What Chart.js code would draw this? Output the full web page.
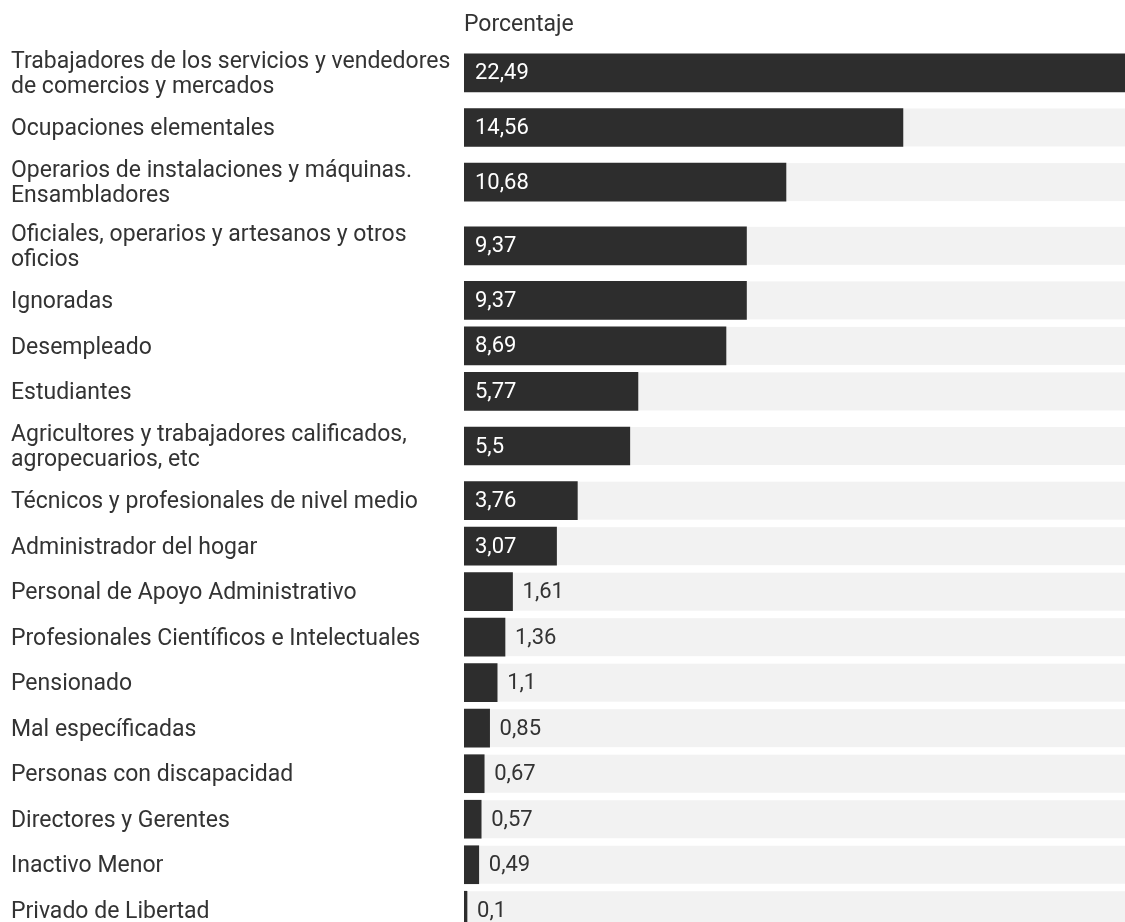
<!DOCTYPE html>
<html>
<head>
<meta charset="utf-8">
<script src="https://cdn.jsdelivr.net/npm/chart.js@4.4.0/dist/chart.umd.min.js"></script>
<style>
  html, body { margin: 0; padding: 0; background: #ffffff; overflow: hidden; }
  #wrap { position: relative; width: 1142px; height: 933px; }
</style>
</head>
<body>
<div id="wrap"><canvas id="c"></canvas></div>
<script>
// ---- data ----
const categories = [
  ['Trabajadores de los servicios y vendedores', 'de comercios y mercados'],
  ['Ocupaciones elementales'],
  ['Operarios de instalaciones y máquinas.', 'Ensambladores'],
  ['Oficiales, operarios y artesanos y otros', 'oficios'],
  ['Ignoradas'],
  ['Desempleado'],
  ['Estudiantes'],
  ['Agricultores y trabajadores calificados,', 'agropecuarios, etc'],
  ['Técnicos y profesionales de nivel medio'],
  ['Administrador del hogar'],
  ['Personal de Apoyo Administrativo'],
  ['Profesionales Científicos e Intelectuales'],
  ['Pensionado'],
  ['Mal específicadas'],
  ['Personas con discapacidad'],
  ['Directores y Gerentes'],
  ['Inactivo Menor'],
  ['Privado de Libertad']
];
const values = [22.49, 14.56, 10.68, 9.37, 9.37, 8.69, 5.77, 5.5, 3.76, 3.07, 1.61, 1.36, 1.1, 0.85, 0.67, 0.57, 0.49, 0.1];
const axisTitle = 'Porcentaje';

// ---- row layout derived from the number of label lines ----
const EXTRA_LINE = 0.4;
const rowSizes = categories.map(l => 1 + EXTRA_LINE * (l.length - 1));
const rowCenters = [];
let acc = 0;
rowSizes.forEach(s => { rowCenters.push(acc + s / 2); acc += s; });
const totalRows = acc;

const fmt = v => String(v).replace('.', ',');
const FONT = 'Roboto';
const TEXT = '#333333';
const BAR = '#2d2d2d';
const TRACK = '#f2f2f2';

const trackPlugin = {
  id: 'track',
  beforeDatasetsDraw(chart) {
    const { ctx, chartArea } = chart;
    const meta = chart.getDatasetMeta(0);
    ctx.save();
    ctx.fillStyle = TRACK;
    meta.data.forEach(el => {
      ctx.fillRect(chartArea.left, el.y - el.height / 2, chartArea.right - chartArea.left, el.height);
    });
    ctx.restore();
  }
};

const labelPlugin = {
  id: 'valueLabels',
  afterDatasetsDraw(chart) {
    const { ctx } = chart;
    const meta = chart.getDatasetMeta(0);
    ctx.save();
    ctx.font = '22px ' + FONT;
    ctx.textBaseline = 'middle';
    ctx.textAlign = 'left';
    meta.data.forEach((el, i) => {
      const txt = fmt(values[i]);
      const w = ctx.measureText(txt).width;
      const barW = el.x - el.base;
      if (w + 22 <= barW) {
        ctx.fillStyle = '#ffffff';
        ctx.fillText(txt, el.base + 11, el.y + 1);
      } else {
        ctx.fillStyle = TEXT;
        ctx.fillText(txt, el.x + 10, el.y + 1);
      }
    });
    ctx.restore();
  }
};

new Chart(document.getElementById('c'), {
  type: 'bar',
  data: {
    datasets: [{
      data: values.map((v, i) => ({ x: v, y: rowCenters[i] })),
      backgroundColor: BAR,
      borderWidth: 0,
      barThickness: 38
    }]
  },
  options: {
    indexAxis: 'y',
    responsive: true,
    maintainAspectRatio: false,
    animation: false,
    events: [],
    layout: { padding: { left: 11, right: 0, top: 0, bottom: 0 } },
    plugins: { legend: { display: false }, tooltip: { enabled: false } },
    scales: {
      x: {
        type: 'linear',
        position: 'top',
        min: 0,
        max: Math.max(...values),
        grid: { display: false },
        border: { display: false },
        ticks: { display: false },
        title: {
          display: true,
          text: axisTitle,
          align: 'start',
          color: TEXT,
          font: { family: FONT, size: 23, lineHeight: 1.2 },
          padding: { top: 11, bottom: 0 }
        },
        afterFit(scale) {
          scale.height = 41;
          scale.paddingLeft = 0; scale.paddingRight = 0;
        }
      },
      y: {
        type: 'linear',
        reverse: true,
        offset: false,
        min: 0,
        max: totalRows,
        grid: { display: false, offset: false },
        border: { display: false },
        afterBuildTicks(scale) { scale.ticks = rowCenters.map(v => ({ value: v })); },
        ticks: {
          autoSkip: false,
          crossAlign: 'far',
          labelOffset: 2,
          color: TEXT,
          font: { family: FONT, size: 23, lineHeight: 1.09 },
          callback: (v, i) => categories[i]
        },
        afterFit(scale) {
          scale.width = 453;
          scale.paddingTop = 0; scale.paddingBottom = 0;
        }
      }
    }
  },
  plugins: [trackPlugin, labelPlugin]
});
</script>
</body>
</html>
